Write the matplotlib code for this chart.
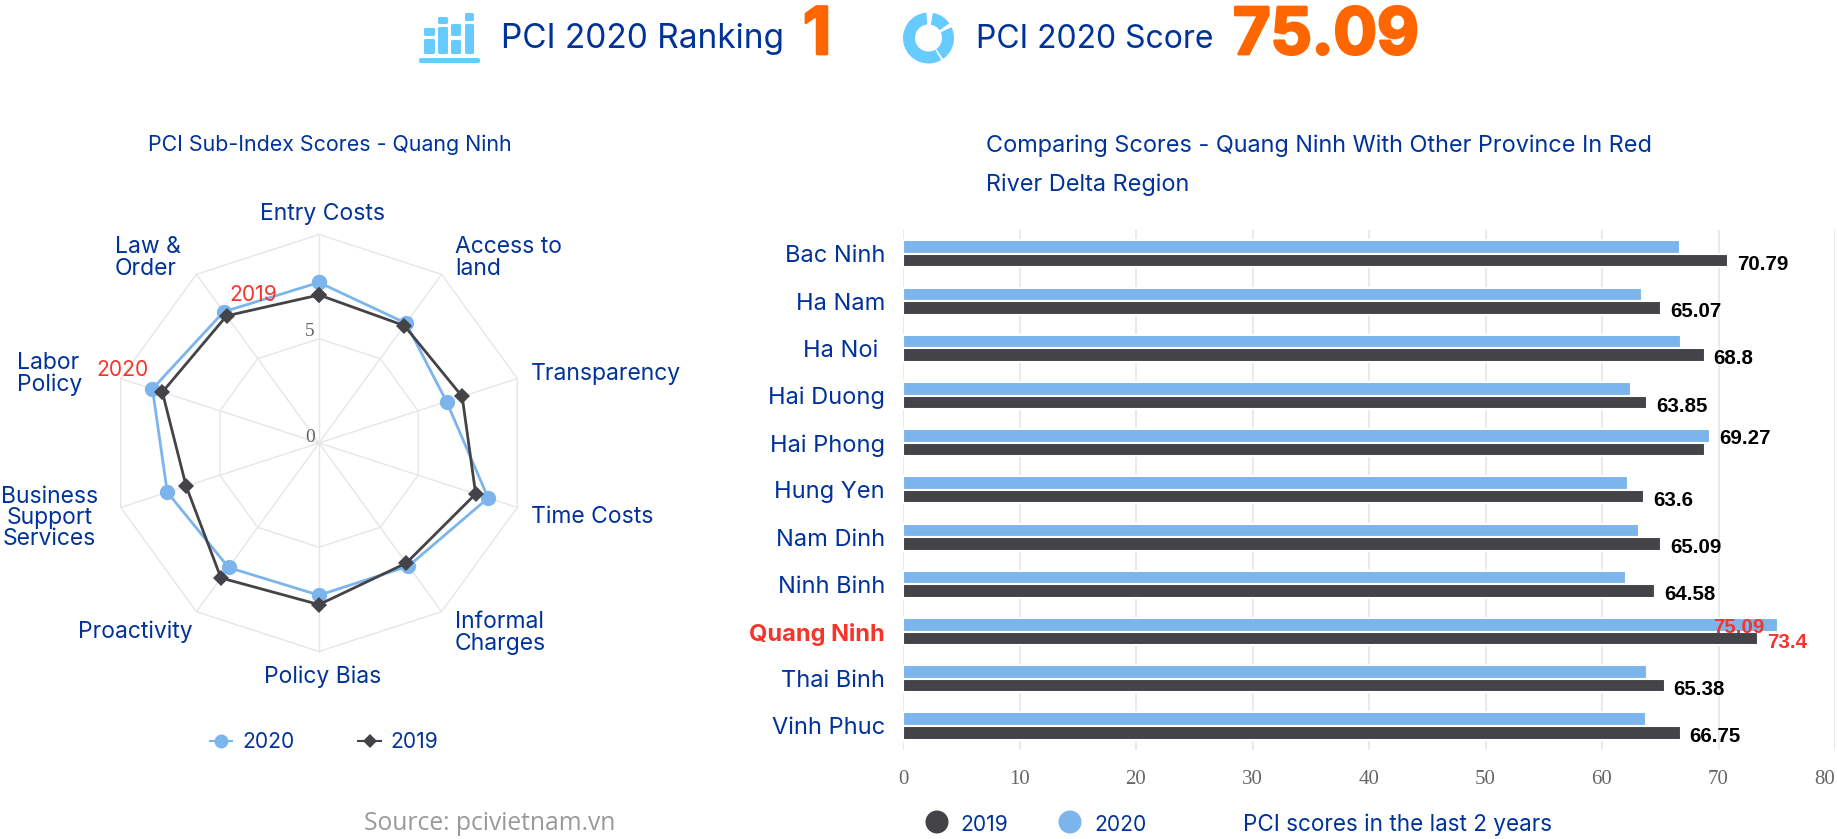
import numpy as np
import matplotlib
matplotlib.use('Agg')
import matplotlib.pyplot as plt
import matplotlib.patheffects as pe
from matplotlib.patches import Circle, FancyBboxPatch, Wedge

# radar data
sub_index = ['Entry Costs', 'Access to\nland', 'Transparency', 'Time Costs', 'Informal\nCharges',
             'Policy Bias', 'Proactivity', 'Business\nSupport\nServices', 'Labor\nPolicy', 'Law &\nOrder']
sub_2020 = [7.7, 7.1, 6.43, 8.53, 7.3, 7.3, 7.38, 7.65, 8.4, 7.78]
sub_2019 = [7.1, 6.96, 7.22, 7.9, 7.12, 7.75, 8.0, 6.7, 7.9, 7.54]
radar_rings = [5, 10]

# bar data
provinces = ['Bac Ninh', 'Ha Nam', 'Ha Noi ', 'Hai Duong', 'Hai Phong', 'Hung Yen',
             'Nam Dinh', 'Ninh Binh', 'Quang Ninh', 'Thai Binh', 'Vinh Phuc']
score_2020 = [66.7, 63.45, 66.77, 62.5, 69.27, 62.2, 63.2, 62.1, 75.09, 63.9, 63.8]
score_2019 = [70.79, 65.07, 68.8, 63.85, 68.8, 63.6, 65.09, 64.58, 73.4, 65.38, 66.75]
bar_labels = ['70.79', '65.07', '68.8', '63.85', '69.27', '63.6', '65.09', '64.58', '73.4', '65.38', '66.75']
x_ticks = [0, 10, 20, 30, 40, 50, 60, 70, 80]

W, H = 1837, 839
BLUE = '#7cb4ec'
DARK = '#434348'
NAVY = '#003399'
RED = '#f5352a'
ORANGE = '#ff6600'
ICON = '#66ccff'
GRID = '#e6e6e6'
FONT = 'Inter'

plt.rcParams['font.family'] = [FONT, 'DejaVu Sans']

fig = plt.figure(figsize=(W / 100, H / 100), dpi=100, facecolor='white')


def axes_px(x0, y0, x1, y1, **kw):
    return fig.add_axes([x0 / W, 1 - y1 / H, (x1 - x0) / W, (y1 - y0) / H], **kw)


# page overlay in pixel coordinates
page = axes_px(0, 0, W, H)
page.set_xlim(0, W)
page.set_ylim(H, 0)
page.axis('off')
page.set_zorder(5)
page.patch.set_alpha(0)


def label(x, y, s, size=15.2, color=NAVY, ha='left', va='center', **kw):
    return page.text(x, y, s, fontsize=size, color=color, ha=ha, va=va, **kw)


# header
label(501, 39, 'PCI 2020 Ranking', size=24)
label(976, 39, 'PCI 2020 Score', size=23)
heavy = [pe.withStroke(linewidth=2, foreground=ORANGE)]
label(803, 37, '1', size=47, color=ORANGE, weight='bold', path_effects=heavy)
label(1233, 37, '75.09', size=46.5, color=ORANGE, weight='bold', path_effects=heavy)

# bar chart icon
page.add_patch(FancyBboxPatch((419, 58), 61, 5, boxstyle='round,pad=0,rounding_size=2', fc=ICON, ec='none'))
icon_cols = [(424, 11, 28, 36), (424, 11, 39, 54), (438, 10, 17, 24), (438, 10, 27, 54),
             (451, 10, 24, 36), (451, 10, 40, 54), (465, 9, 13, 21), (465, 9, 24, 54)]
for bx, bw, top, bottom in icon_cols:
    page.add_patch(FancyBboxPatch((bx, top), bw, bottom - top, boxstyle='round,pad=0,rounding_size=1.5', fc=ICON, ec='none'))

# donut icon, y axis of the page points down so angles run clockwise
for a0, a1 in [(-80, -35), (-25, 55), (60, 265)]:
    page.add_patch(Wedge((928.5, 38), 25.5, a0, a1, width=12, fc=ICON, ec='none'))

# section titles
label(148, 145, 'PCI Sub-Index Scores - Quang Ninh', size=15.4)
label(986, 146, 'Comparing Scores - Quang Ninh With Other Province In Red', size=16.9)
label(986, 185, 'River Delta Region', size=16.9)

# radar
cx, cy, rad = 319, 443, 208.5
radar = axes_px(cx - rad, cy - rad, cx + rad, cy + rad, projection='polar')
radar.set_theta_zero_location('N')
radar.set_theta_direction(-1)
radar.set_ylim(0, 10)
radar.axis('off')
theta = np.arange(len(sub_index)) * 2 * np.pi / len(sub_index)
closed = np.append(theta, theta[0])
for ring in radar_rings:
    radar.plot(closed, [ring] * len(closed), color=GRID, lw=1, clip_on=False, zorder=1)
for t in theta:
    radar.plot([t, t], [0, 10], color=GRID, lw=1, clip_on=False, zorder=1)
radar.plot(closed, sub_2020 + sub_2020[:1], color=BLUE, lw=2, marker='o', ms=11, mew=0, clip_on=False, zorder=3)
radar.plot(closed, sub_2019 + sub_2019[:1], color=DARK, lw=2, marker='D', ms=8.5, mew=0, clip_on=False, zorder=4)

label(310, 332, '5', size=14, color='#666666', ha='center', family='Liberation Serif')
label(310, 437, '0', size=14, color='#666666', ha='center', family='Liberation Serif')
label(229, 295, '2019', size=15.2, color=RED)
label(96, 370, '2020', size=15.2, color=RED)

radar_pos = [(323, 214, 'center'), (455, 258, 'left'), (531, 374, 'left'), (531, 517, 'left'), (455, 633, 'left'),
             (323, 677, 'center'), (193, 632, 'right'), (98, 518, 'right'), (82, 374, 'right'), (181, 258, 'right')]
for name, (x, y, ha) in zip(sub_index, radar_pos):
    ma = 'center' if name.startswith('Business') else 'left'
    page.text(x, y, name, fontsize=16.5, color=NAVY, ha=ha, va='center', ma=ma, linespacing=0.95)

# radar legend
page.plot([210, 232], [741, 741], color=BLUE, lw=1.5)
page.plot([221], [741], color=BLUE, marker='o', ms=10, mew=0)
page.plot([358, 381], [741, 741], color=DARK, lw=1.5)
page.plot([369.5], [741], color=DARK, marker='D', ms=7, mew=0)
label(242, 742, '2020')
label(390, 742, '2019')

# bars
y0, y1 = 230.4, 749.6
ax = axes_px(903, y0, 1835, y1)
n = len(provinces)
pos = np.arange(n)
bar_h = 13.5 / 47.2
off = 6.75 / 47.2
ax.barh(pos - off, score_2020, height=bar_h, color=BLUE, edgecolor='white', lw=1.5, zorder=3)
ax.barh(pos + off, score_2019, height=bar_h, color=DARK, edgecolor='white', lw=1.5, zorder=3)
ax.set_xlim(0, 80)
ax.set_ylim(n - 0.5, -0.5)
ax.set_xticks(x_ticks)
ax.set_yticks(pos)
ax.set_yticklabels(provinces, fontsize=17, color=NAVY)
ax.get_yticklabels()[8].set_color(RED)
ax.get_yticklabels()[8].set_weight('bold')
ax.tick_params(axis='y', length=0, pad=13)
ax.tick_params(axis='x', length=0, pad=14.5, labelsize=15, labelcolor='#666666')
for t in ax.get_xticklabels():
    t.set_family('Liberation Serif')
ax.get_xticklabels()[-1].set_ha('right')
ax.grid(axis='x', color=GRID, lw=1.2, zorder=0)
for s in ax.spines.values():
    s.set_visible(False)

for i, txt in enumerate(bar_labels):
    is_red = provinces[i] == 'Quang Ninh'
    if provinces[i] == 'Hai Phong':
        val, ypos = score_2020[i], i - off + 0.06
    else:
        val, ypos = score_2019[i], i + off + 0.08
    ax.annotate(txt, (val, ypos), xytext=(9, 0), textcoords='offset pixels',
                fontsize=14.8, weight='bold', family='Liberation Sans', va='center', zorder=5,
                color=RED if is_red else 'black')
ax.annotate('75.09', (score_2020[8], 8 - off + 0.06), xytext=(-13, 0), textcoords='offset pixels', ha='right',
            fontsize=14.8, weight='bold', family='Liberation Sans', va='center', zorder=5, color=RED)

# bar legend
page.add_patch(Circle((937, 822), 11.5, fc=DARK, ec='none'))
page.add_patch(Circle((1070, 822), 11.5, fc=BLUE, ec='none'))
label(960, 825, '2019')
label(1094, 825, '2020')
label(1243, 825, 'PCI scores in the last 2 years', size=16.2)

# source
label(364, 824, 'Source: pcivietnam.vn', size=17.7, color='#999999', family='Open Sans')

fig.savefig('out.png', dpi=100)
